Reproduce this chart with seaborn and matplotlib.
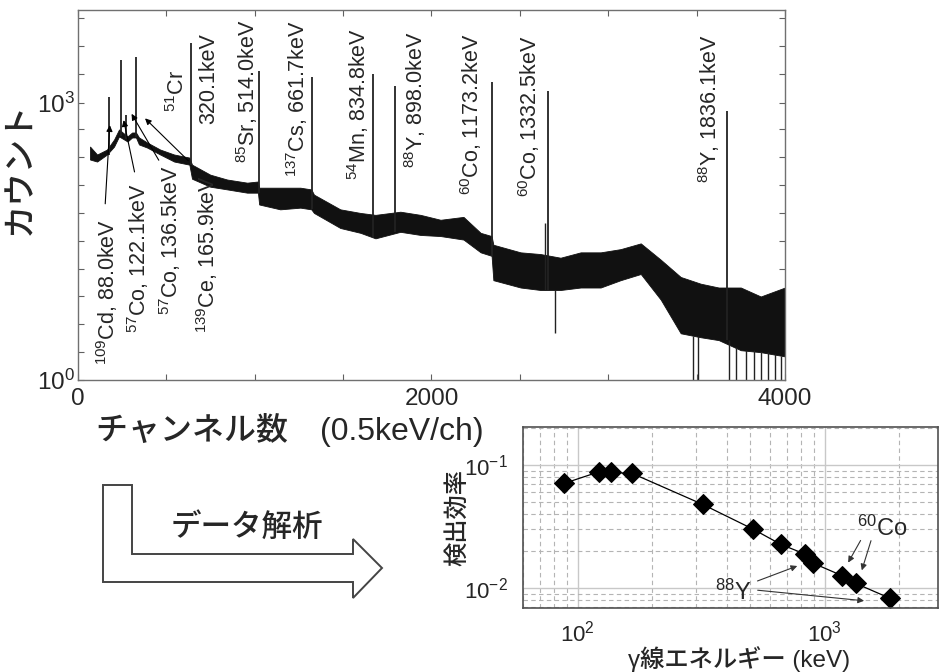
import matplotlib
matplotlib.use('Agg')
import numpy as np
import pandas as pd
import matplotlib.pyplot as plt
from matplotlib.patches import Polygon
from matplotlib.ticker import NullFormatter
import seaborn as sns

# ---- gamma-ray spectrum (channel, counts) ----
# noise band: upper / lower envelope of the continuum
band_ch = [68, 108, 164, 204, 232, 280, 306, 328, 345, 391, 465, 544, 630, 645, 748,
           844, 957, 1018, 1025, 1144, 1258, 1320, 1335, 1484, 1598, 1683, 1824, 1938,
           2051, 2181, 2278, 2340, 2350, 2504, 2617, 2730, 2844, 2957, 3070, 3184,
           3297, 3410, 3523, 3625, 3750, 3863, 4000]
band_hi = [334, 274, 310, 398, 511, 430, 474, 474, 419, 370, 310, 274, 254, 213, 166,
           147, 136, 140, 120, 120, 120, 115, 101, 70, 64, 61, 66, 61,
           54, 58, 39, 36, 29, 24, 23, 21, 24, 24, 26, 30,
           20, 13, 11, 10, 10, 8, 10]
band_lo = [242, 230, 274, 334, 430, 379, 419, 419, 352, 326, 274, 230, 213, 150, 123,
           115, 106, 106, 79, 70, 73, 70, 64, 44, 39, 34, 40, 37,
           36, 33, 24, 22, 12, 10, 9.4, 9.4, 10, 10, 12, 14,
           7.4, 3.2, 2.9, 2.7, 2.1, 2.0, 1.8]

# full-energy peaks
peak_ch = [174, 244, 273, 330, 638, 1026, 1323, 1667, 1794, 2344, 2662, 3673]
peak_base = [274, 430, 400, 419, 213, 106, 70, 34, 40, 22, 9.4, 2.7]
peak_top = [1135, 2860, 740, 3080, 4370, 2170, 1870, 2020, 1495, 1650, 1320, 801]

# single spikes / dropouts of the spectrum
spike_ch = [2640, 2700, 3479, 3507, 3683, 3722, 3779, 3824, 3864, 3904, 3943, 3977]
spike_lo = [9.4, 3.2, 1, 1, 1, 1, 1, 1, 1, 1, 1, 1]
spike_hi = [50, 9.4, 3.0, 3.0, 2.7, 2.3, 2.1, 2.1, 2.0, 2.0, 1.9, 1.8]

peak_labels = [r'$^{109}$Cd, 88.0keV', r'$^{57}$Co, 122.1keV', r'$^{57}$Co, 136.5keV',
               r'$^{139}$Ce, 165.9keV', r'$^{51}$Cr', '320.1keV', r'$^{85}$Sr, 514.0keV',
               r'$^{137}$Cs, 661.7keV', r'$^{54}$Mn, 834.8keV', r'$^{88}$Y, 898.0keV',
               r'$^{60}$Co, 1173.2keV', r'$^{60}$Co, 1332.5keV', r'$^{88}$Y, 1836.1keV']
label_ch = [164, 340, 521, 731, 561, 737, 958, 1241, 1586, 1909, 2221, 2550, 3570]
label_y = [1.45, 3.23, 5.06, 3.23, 781, 579, 224, 158, 147, 198, 101, 96, 136]

# arrows from the low-energy labels to their peaks
arrow_tail = [(153, 75), (323, 166), (465, 224), (635, 224)]
arrow_head = [(181, 609), (255, 690), (295, 801), (368, 707)]

# ---- detection efficiency ----
eff_energy = [88.0, 122.1, 136.5, 165.9, 320.1, 514.0, 661.7, 834.8, 898.0, 1173.2, 1332.5, 1836.1]
eff_value = [0.0710, 0.0883, 0.0871, 0.0856, 0.0479, 0.0300, 0.0227, 0.0188, 0.0159, 0.0126, 0.0109, 0.00824]

sns.set_style('ticks')
plt.rcParams['font.family'] = ['Liberation Sans', 'Noto Sans CJK JP']
plt.rcParams['mathtext.fontset'] = 'custom'
plt.rcParams['mathtext.rm'] = 'Liberation Sans'
plt.rcParams['mathtext.it'] = 'Liberation Sans:italic'
plt.rcParams['mathtext.bf'] = 'Liberation Sans:bold'

fig = plt.figure(figsize=(9.41, 6.72), dpi=100)

# ---------------- spectrum ----------------
ax1 = fig.add_axes([0.0829, 0.4345, 0.7513, 0.5506])
ax1.set_yscale('log')
ax1.fill_between(band_ch, band_lo, band_hi, color='#111111', lw=0.6)
ax1.vlines(peak_ch, peak_base, peak_top, color='#222222', lw=1.3)
ax1.vlines(spike_ch, spike_lo, spike_hi, color='#222222', lw=1.0)
ax1.set_xlim(0, 4000)
ax1.set_ylim(1, 1e4)

ax1.set_xticks([0, 2000, 4000], labels=['0', '2000', '4000'])
ax1.set_xticks(np.arange(0, 4001, 500), minor=True)
ax1.set_yticks([1, 1000], labels=[r'$10^0$', r'$10^3$'])
ax1.set_yticks([2 ** k for k in range(1, 14) if k != 10], minor=True)
ax1.yaxis.set_minor_formatter(NullFormatter())
ax1.tick_params(which='both', direction='in', top=True, right=True, length=4,
                width=0.8, color='#606060', labelsize=17.5)
ax1.tick_params(axis='x', pad=6)
ax1.tick_params(axis='y', pad=2)
for sp in ax1.spines.values():
    sp.set_color('#707070')
    sp.set_linewidth(1.0)

ax1.set_xlabel('チャンネル数\u3000(0.5keV/ch)', fontsize=23, fontweight='medium')
ax1.xaxis.label.set(ha='center', va='center')
ax1.xaxis.set_label_coords(0.30, -0.135)
ax1.set_ylabel('カウント', fontsize=24, fontweight='medium')
ax1.yaxis.label.set(ha='center', va='center')
ax1.yaxis.set_label_coords(-0.081, 0.573)

for txt, x, y in zip(peak_labels, label_ch, label_y):
    ax1.text(x, y, txt, rotation=90, ha='center', va='bottom', fontsize=15.5)
for tail, head in zip(arrow_tail, arrow_head):
    ax1.annotate('', xy=head, xytext=tail,
                 arrowprops=dict(arrowstyle='-|>', color='k', lw=0.8, mutation_scale=9))

# ---------------- efficiency ----------------
ax2 = fig.add_axes([0.5558, 0.0952, 0.4410, 0.2693])
ax2.set_xscale('log')
ax2.set_yscale('log')
df = pd.DataFrame({'energy': eff_energy, 'eff': eff_value})
sns.lineplot(data=df, x='energy', y='eff', ax=ax2, color='k', lw=0.9,
             marker='D', markersize=10, markeredgecolor='k')
ax2.set_xlim(60, 2870)
ax2.set_ylim(0.00687, 0.204)
ax2.set_axisbelow(True)
ax2.grid(True, which='major', color='#c8c8c8', lw=1.0, ls='-')
ax2.grid(True, which='minor', color='#b4b4b4', lw=0.8, ls=(0, (4, 3)))
ax2.set_xticks([100, 1000], labels=[r'$10^2$', r'$10^3$'])
ax2.set_yticks([0.01, 0.1], labels=[r'$10^{-2}$', r'$10^{-1}$'])
ax2.xaxis.set_minor_formatter(NullFormatter())
ax2.yaxis.set_minor_formatter(NullFormatter())
ax2.tick_params(which='both', length=0, labelsize=16)
ax2.tick_params(axis='x', pad=9)
ax2.tick_params(axis='y', pad=11)
for sp in ax2.spines.values():
    sp.set_color('#505050')
    sp.set_linewidth(1.2)
ax2.set_xlabel('γ線エネルギー (keV)', fontsize=17.5, fontweight='medium')
ax2.xaxis.label.set(ha='center', va='center')
ax2.xaxis.set_label_coords(0.52, -0.28)
ax2.set_ylabel('検出効率', fontsize=17.5, fontweight='medium')
ax2.yaxis.label.set(ha='center', va='center')
ax2.yaxis.set_label_coords(-0.157, 0.50)

arr = dict(arrowstyle='-|>', color='#333333', lw=0.8, mutation_scale=9)
ax2.text(1702, 0.0307, r'$^{60}$Co', ha='center', va='center', fontsize=17)
ax2.annotate('', xy=(1227, 0.01538), xytext=(1413, 0.0255), arrowprops=arr)
ax2.annotate('', xy=(1400, 0.01324), xytext=(1549, 0.0255), arrowprops=arr)
ax2.text(424, 0.00928, r'$^{88}$Y', ha='center', va='center', fontsize=17)
ax2.annotate('', xy=(792, 0.01538), xytext=(521, 0.0112), arrowprops=arr)
ax2.annotate('', xy=(1479, 0.00783), xytext=(521, 0.00964), arrowprops=arr)

# ---------------- big "data analysis" arrow ----------------
ov = fig.add_axes([0, 0, 1, 1], zorder=-1)
ov.set_xlim(0, 941)
ov.set_ylim(672, 0)
ov.axis('off')
bent = [(103, 485), (132, 485), (132, 554), (353, 554), (353, 539), (382, 568),
        (353, 598), (353, 582), (103, 582)]
ov.add_patch(Polygon(bent, closed=True, facecolor='white', edgecolor='#444444', lw=1.4))
ov.text(247, 528, 'データ解析', ha='center', va='center', fontsize=22, fontweight='medium')

fig.savefig('out.png', dpi=100)
